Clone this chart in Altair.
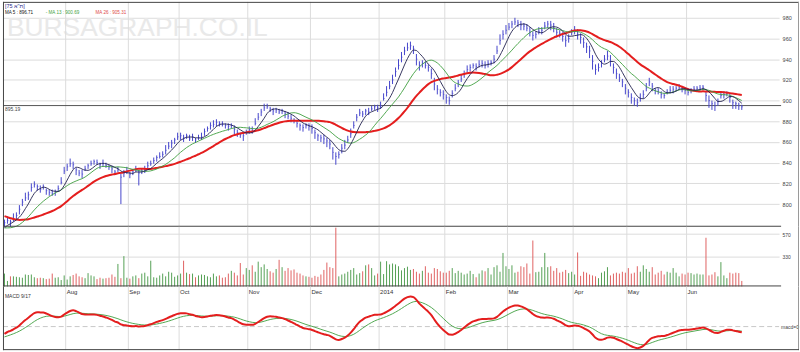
import altair as alt
import pandas as pd

# ---------------- data ----------------
# closes before the visible window (implied by the starting MA levels)
warmup_close = [812, 810, 809, 806, 805, 803, 801, 800, 798, 797, 795, 794, 792,
                788, 784, 781, 779, 777, 775, 774, 773, 772, 773, 775, 777, 779]

close = [
    782, 784, 783, 786, 789, 795, 802, 806, 809, 816,
    819, 817, 814, 816, 813, 811, 810, 812, 815, 821,
    832, 836, 839, 838, 833, 830, 829, 834, 837, 839,
    841, 840, 838, 839, 837, 836, 834, 831, 833, 826,
    830, 832, 829, 831, 833, 830, 832, 834, 837, 839,
    842, 845, 846, 848, 852, 856, 859, 862, 865, 866,
    864, 866, 863, 865, 862, 864, 865, 870, 873, 876,
    877, 879, 878, 877, 876, 875, 876, 872, 869, 867,
    866, 870, 872, 871, 878, 884, 889, 893, 894, 892,
    890, 891, 889, 890, 887, 885, 883, 881, 878, 876,
    874, 876, 875, 873, 869, 866, 864, 863, 861, 858,
    850, 846, 848, 854, 857, 862, 868, 876, 884, 888,
    887, 890, 889, 892, 894, 893, 895, 902, 908, 914,
    920, 928, 934, 942, 948, 951, 953, 950, 940, 934,
    936, 934, 932, 926, 916, 911, 908, 906, 903, 900,
    907, 912, 917, 921, 926, 930, 932, 934, 933, 935,
    936, 934, 936, 937, 940, 948, 958, 964, 968, 971,
    974, 976, 975, 973, 972, 970, 966, 963, 964, 967,
    968, 972, 974, 973, 970, 966, 965, 962, 958, 960,
    966, 968, 964, 961, 956, 952, 948, 938, 930, 932,
    936, 940, 943, 938, 932, 926, 922, 918, 912, 908,
    903, 900, 898, 902, 906, 912, 918, 914, 910, 909,
    906, 905, 908, 910, 911, 912, 913, 911, 910, 908,
    910, 911, 912, 912, 913, 905, 900, 897, 895, 899,
    905, 906, 907, 903, 898, 897, 895, 894,
]

hi_ext = [
    3, 4, 2, 5, 3, 4, 3, 5, 3, 4,
    3, 2, 4, 3, 2, 3, 4, 2, 3, 5,
    4, 3, 5, 3, 2, 3, 4, 3, 2, 3,
    2, 3, 2, 4, 3, 2, 3, 2, 3, 4,
    3, 4, 2, 3, 4, 3, 2, 3, 4, 3,
    3, 2, 4, 3, 5, 4, 3, 2, 4, 3,
    3, 2, 4, 3, 2, 3, 4, 3, 2, 3,
    4, 3, 2, 3, 2, 3, 2, 4, 3, 2,
    3, 2, 3, 4, 5, 4, 3, 4, 3, 2,
    3, 2, 3, 2, 3, 4, 3, 2, 3, 2,
    3, 2, 3, 4, 3, 2, 3, 4, 3, 4,
    5, 4, 3, 4, 5, 4, 5, 4, 3, 4,
    3, 2, 4, 3, 2, 3, 4, 5, 6, 5,
    5, 4, 6, 5, 4, 5, 4, 3, 5, 4,
    3, 4, 3, 5, 6, 4, 3, 4, 3, 4,
    3, 4, 3, 4, 3, 4, 3, 2, 3, 4,
    3, 4, 3, 2, 4, 5, 6, 4, 5, 4,
    3, 4, 3, 4, 3, 4, 5, 4, 3, 4,
    3, 4, 3, 4, 5, 4, 3, 4, 5, 4,
    3, 4, 5, 4, 5, 4, 5, 6, 5, 4,
    3, 4, 5, 6, 4, 5, 4, 3, 4, 3,
    4, 3, 4, 5, 4, 5, 4, 3, 2, 3,
    3, 2, 3, 4, 3, 2, 3, 2, 3, 4,
    2, 3, 2, 3, 2, 4, 5, 3, 4, 3,
    4, 3, 2, 4, 3, 2, 3, 2,
]

lo_ext = [
    4, 3, 5, 3, 4, 5, 4, 3, 5, 4,
    3, 4, 3, 2, 4, 3, 2, 4, 3, 2,
    3, 4, 3, 4, 5, 3, 4, 2, 3, 2,
    3, 2, 4, 3, 2, 3, 4, 3, 2, 26,
    4, 3, 4, 3, 2, 12, 3, 4, 3, 2,
    3, 4, 2, 3, 4, 3, 5, 4, 3, 4,
    4, 3, 2, 4, 3, 2, 3, 4, 3, 4,
    3, 4, 3, 2, 3, 4, 3, 5, 4, 3,
    5, 3, 4, 3, 2, 3, 4, 3, 2, 3,
    4, 3, 2, 3, 4, 3, 4, 3, 4, 5,
    4, 3, 4, 5, 6, 5, 4, 5, 6, 5,
    7, 8, 4, 5, 4, 3, 4, 3, 4, 3,
    3, 4, 3, 2, 3, 4, 3, 2, 4, 3,
    4, 5, 4, 5, 4, 3, 4, 5, 6, 5,
    4, 3, 4, 5, 6, 5, 4, 5, 6, 4,
    4, 3, 4, 3, 4, 3, 4, 3, 4, 3,
    4, 3, 4, 3, 4, 3, 4, 5, 4, 3,
    4, 3, 4, 5, 4, 3, 4, 5, 4, 3,
    4, 3, 4, 5, 4, 5, 4, 5, 6, 4,
    3, 4, 5, 6, 5, 6, 7, 8, 5, 4,
    4, 3, 4, 5, 6, 5, 4, 5, 6, 5,
    6, 5, 4, 3, 4, 3, 4, 5, 4, 3,
    4, 3, 2, 3, 4, 3, 2, 3, 4, 3,
    3, 2, 3, 2, 3, 6, 7, 6, 5, 4,
    3, 4, 3, 5, 6, 5, 4, 3,
]

volume = [
    140, 60, 110, 110, 105, 100, 95, 130, 125, 130,
    100, 90, 95, 90, 80, 85, 140, 95, 100, 70,
    120, 75, 110, 125, 140, 110, 100, 90, 145, 120,
    110, 80, 95, 85, 90, 95, 130, 105, 245, 90,
    330, 95, 85, 110, 120, 90, 140, 150, 110, 280,
    100, 95, 120, 140, 110, 160, 150, 105, 120, 140,
    280, 150, 135, 140, 100, 120, 130, 125, 110, 100,
    140, 110, 120, 95, 100, 140, 170, 150, 120, 255,
    130, 200, 180, 230, 160, 270, 210, 240, 190, 165,
    150, 190, 290, 210, 170, 200, 175, 185, 150, 140,
    120, 110, 105, 95, 115, 105, 130, 180, 260, 210,
    200, 640, 110, 130, 140, 160, 180, 200, 130, 145,
    165, 230, 240, 200, 120, 140, 270, 135, 275, 240,
    250, 240, 220, 175, 200, 215, 180, 190, 160, 140,
    170, 220, 150, 140, 200, 190, 165, 150, 150, 170,
    200, 145, 170, 150, 130, 140, 170, 135, 100, 140,
    175, 165, 200, 130, 210, 230, 160, 365, 220, 190,
    230, 150, 160, 220, 210, 250, 140, 500, 155, 160,
    210, 365, 210, 220, 170, 200, 150, 160, 180, 145,
    160, 130, 370, 115, 160, 150, 130, 120, 110, 90,
    150, 165, 210, 120, 140, 150, 140, 160, 150, 200,
    140, 150, 220, 160, 230, 190, 160, 210, 130, 150,
    170, 130, 160, 150, 200, 150, 110, 140, 130, 150,
    145, 130, 140, 130, 130, 530, 120, 130, 155, 110,
    265, 120, 90, 150, 140, 150, 145, 60,
]

month_labels = ["Aug", "Sep", "Oct", "Nov", "Dec", "2014", "Feb", "Mar", "Apr", "May", "Jun"]
month_first_bar = [21, 42, 59, 82, 103, 126, 148, 169, 191, 209, 229]
price_ticks = [800, 820, 840, 860, 880, 900, 920, 940, 960, 980]
volume_ticks = [330, 570]
ref_level = 895.19
ref_label = "895.19"
title_text = '[75 ת"א]'
legend_items = ["MA 5 : 896.71", "- MA 13 : 900.69", "MA 26 : 905.31"]

# ---------------- derived indicator table ----------------
k = len(warmup_close)
n = len(close)
s = pd.Series([float(v) for v in warmup_close + close])
ma5 = s.rolling(5, min_periods=1).mean().iloc[k:].values
ma13 = s.rolling(13, min_periods=1).mean().iloc[k:].values
ma26 = s.rolling(26, min_periods=1).mean().iloc[k:].values
ema_f = s.ewm(span=9, adjust=False).mean()
ema_s = s.ewm(span=17, adjust=False).mean()
macd_full = ema_f - ema_s
sig_full = macd_full.ewm(span=9, adjust=False).mean()
macd = macd_full.iloc[k:].values
sig = sig_full.iloc[k:].values

prev = [warmup_close[-1]] + close[:-1]
df = pd.DataFrame({
    "i": list(range(n)),
    "close": close,
    "high": [c + h for c, h in zip(close, hi_ext)],
    "low": [c - l for c, l in zip(close, lo_ext)],
    "ctick": [i + 0.34 for i in range(n)],
    "vol": volume,
    "dir": ["up" if c >= p else "down" for c, p in zip(close, prev)],
    "ma5": ma5, "ma13": ma13, "ma26": ma26,
    "macd": macd, "sig": sig,
})
months = pd.DataFrame({"label": month_labels,
                       "pos": [b - 0.5 for b in month_first_bar]})

# ---------------- layout constants ----------------
W = 780
H_MAIN, H_VOL, H_MACD = 226, 60, 64
FONT = "Liberation Sans"
XS = alt.Scale(domain=[-0.5, 259.5], nice=False, zero=False)
GRID = "#dcdcdc"
BORDER = "#444444"
BAR = "#4646cc"


def xq(field):
    return alt.X(f"{field}:Q", scale=XS, axis=None)


def one(text):
    return pd.DataFrame({"t": [text]})


def frame(h, bottom_to=782, bottom_color=BORDER):
    left = alt.Chart(one("")).mark_rule(color=BORDER, strokeWidth=1).encode(
        x=alt.value(0.5), y=alt.value(0), y2=alt.value(h))
    right = alt.Chart(one("")).mark_rule(color="#999999", strokeWidth=1).encode(
        x=alt.value(799.5), y=alt.value(0), y2=alt.value(h))
    bottom = alt.Chart(one("")).mark_rule(color=bottom_color, strokeWidth=1).encode(
        x=alt.value(0), x2=alt.value(bottom_to), y=alt.value(h - 0.5))
    return [left, right, bottom]


def month_grid(h):
    return alt.Chart(months).mark_rule(color=GRID, strokeWidth=1).encode(
        x=xq("pos"), y=alt.value(0), y2=alt.value(h))


# ---------------- main price panel ----------------
PS = alt.Scale(domain=[778.1, 995.4], nice=False, zero=False)
PAX = alt.Axis(orient="right", values=price_ticks, grid=True, gridColor=GRID,
               domain=False, ticks=False, labelFontSize=5.5, labelPadding=3,
               labelColor="#444444", labelFont=FONT, title=None)


def yp(field):
    return alt.Y(f"{field}:Q", scale=PS, axis=PAX)


watermark = alt.Chart(one("BURSAGRAPH.CO.IL")).mark_text(
    font=FONT, fontSize=26.5, color="#e9e9e9",
    align="left", baseline="middle").encode(x=alt.value(4), y=alt.value(26), text="t:N")

ref_rule = alt.Chart(pd.DataFrame({"v": [ref_level]})).mark_rule(
    color="#555555", strokeWidth=1).encode(x=alt.value(0), x2=alt.value(782), y=yp("v"))
ref_text = alt.Chart(pd.DataFrame({"v": [ref_level], "t": [ref_label]})).mark_text(
    font=FONT, fontSize=5, color="#444444", align="left", baseline="top", dy=1.5).encode(
    x=alt.value(2), y=yp("v"), text="t:N")

bars = alt.Chart(df).mark_rule(color=BAR, strokeWidth=1).encode(
    x=xq("i"), y=yp("low"), y2="high:Q")
ticks = alt.Chart(df).mark_rule(color=BAR, strokeWidth=1, opacity=0.7).encode(
    x=xq("i"), x2="ctick:Q", y=yp("close"))

l26 = alt.Chart(df).mark_line(color="#e41e1e", strokeWidth=2, interpolate="monotone").encode(
    x=xq("i"), y=yp("ma26"))
l13 = alt.Chart(df).mark_line(color="#3f9f3f", strokeWidth=0.9, interpolate="monotone").encode(
    x=xq("i"), y=yp("ma13"))
l5 = alt.Chart(df).mark_line(color="#20204e", strokeWidth=0.9, interpolate="monotone").encode(
    x=xq("i"), y=yp("ma5"))

t_title = alt.Chart(one(title_text)).mark_text(
    font=FONT, fontSize=5.5, color="#2a2a8a", align="left", baseline="middle").encode(
    x=alt.value(2), y=alt.value(4), text="t:N")
legend_df = pd.DataFrame({"t": legend_items, "px": [2, 43, 93],
                          "c": ["#111111", "#3f9f3f", "#e04848"]})
t_legend = alt.Chart(legend_df).mark_text(
    font=FONT, fontSize=4.6, align="left", baseline="middle").encode(
    x=alt.X("px:Q", scale=None), y=alt.value(11), text="t:N",
    color=alt.Color("c:N", scale=None, legend=None))

top_border = alt.Chart(one("")).mark_rule(color=BORDER, strokeWidth=1).encode(
    x=alt.value(0), x2=alt.value(800), y=alt.value(0.5))

main = alt.layer(
    watermark, month_grid(H_MAIN), ref_rule, ref_text, bars, ticks, l26, l13, l5,
    t_title, t_legend, top_border, *frame(H_MAIN)
).properties(width=W, height=H_MAIN)

# ---------------- volume panel ----------------
VS = alt.Scale(domain=[0, 650], nice=False, zero=True)
VAX = alt.Axis(orient="right", values=volume_ticks, grid=True, gridColor=GRID,
               domain=False, ticks=False, labelFontSize=5, labelPadding=3,
               labelColor="#444444", labelFont=FONT, title=None)
vbars = alt.Chart(df).mark_rule(strokeWidth=1).encode(
    x=xq("i"),
    y=alt.Y("vol:Q", scale=VS, axis=VAX),
    y2=alt.datum(0),
    color=alt.Color("dir:N", scale=alt.Scale(domain=["up", "down"],
                                             range=["#55a055", "#e06262"]), legend=None),
)
vol = alt.layer(month_grid(H_VOL), vbars, *frame(H_VOL)).properties(width=W, height=H_VOL)

# ---------------- MACD panel ----------------
mx = float(max(macd.max(), sig.max()))
mn = float(min(macd.min(), sig.min()))
r = mx - mn
MS = alt.Scale(domain=[mn - 2 * r / 52, mx + 10 * r / 52], nice=False, zero=False)


def ym(field):
    return alt.Y(f"{field}:Q", scale=MS, axis=None)


zero_df = pd.DataFrame({"z": [0.0], "t": ["macd=0"]})
zero_rule = alt.Chart(zero_df).mark_rule(color="#c8c8c8", strokeWidth=1, strokeDash=[5, 3]).encode(
    x=alt.value(0), x2=alt.value(W), y=ym("z"))
zero_text = alt.Chart(zero_df).mark_text(
    font=FONT, fontSize=5, color="#444444", align="left", baseline="middle").encode(
    x=alt.value(782), y=ym("z"), text="t:N")
sig_line = alt.Chart(df).mark_line(color="#3f9f3f", strokeWidth=0.9, interpolate="monotone").encode(
    x=xq("i"), y=ym("sig"))
macd_line = alt.Chart(df).mark_line(color="#e41e1e", strokeWidth=2, interpolate="monotone").encode(
    x=xq("i"), y=ym("macd"))
month_text = alt.Chart(months).mark_text(
    font=FONT, fontSize=6, color="#333333", align="left", baseline="middle", dx=1).encode(
    x=xq("pos"), y=alt.value(6), text="label:N")
macd_title = alt.Chart(one("MACD 9/17")).mark_text(
    font=FONT, fontSize=5, color="#333333", align="left", baseline="middle").encode(
    x=alt.value(2), y=alt.value(10), text="t:N")

macd_panel = alt.layer(
    month_grid(H_MACD), zero_rule, zero_text, sig_line, macd_line, month_text, macd_title,
    *frame(H_MACD, bottom_to=800)
).properties(width=W, height=H_MACD)

chart = alt.vconcat(main, vol, macd_panel, spacing=0, bounds="flush", padding=0).configure_view(
    stroke=None).properties(background="white")

chart.save("out.html", embed_options={"renderer": "svg", "actions": False})
